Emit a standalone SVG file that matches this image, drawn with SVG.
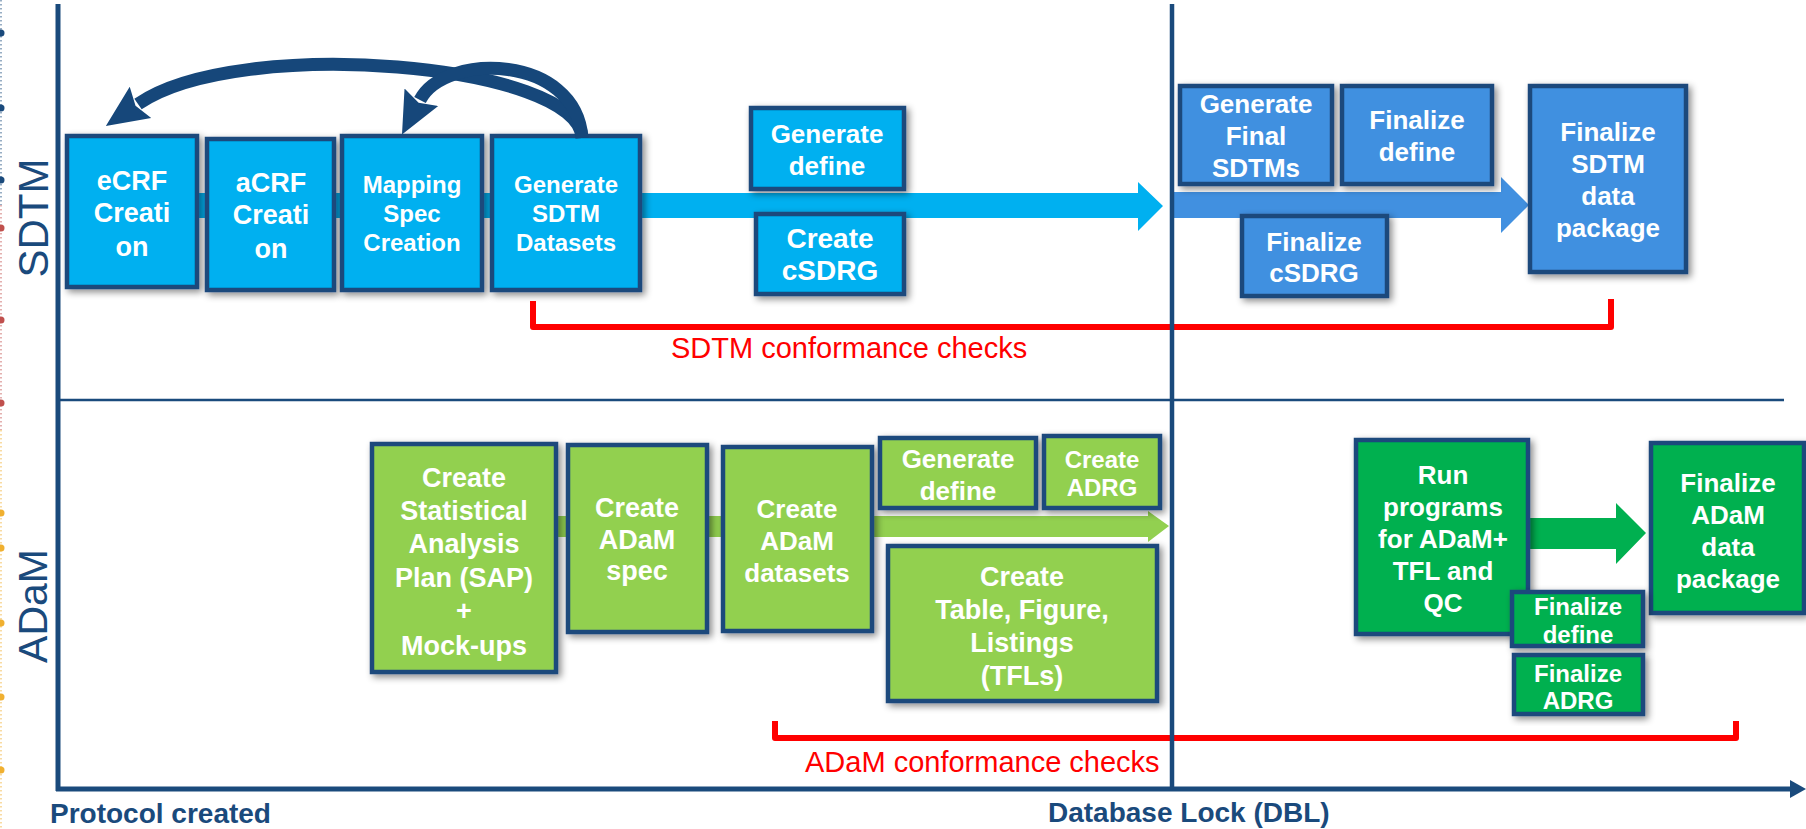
<svg xmlns="http://www.w3.org/2000/svg" width="1806" height="829" viewBox="0 0 1806 829">
<style>
.bx{stroke:#1A4A7C;stroke-width:4.5;filter:url(#sh)}
.lb{fill:#00B0F0}.mb{fill:#4190E0}.lg{fill:#92D050}.dg{fill:#00B050}
.t{font-family:"Liberation Sans",Arial,sans-serif;font-weight:bold;fill:#fff;text-anchor:middle}
.lane{font-family:"Liberation Sans",Arial,sans-serif;fill:#1A4A7C;text-anchor:middle}
.ax{font-family:"Liberation Sans",Arial,sans-serif;font-weight:bold;fill:#1A4A7C;font-size:28px}
.chk{font-family:"Liberation Sans",Arial,sans-serif;fill:#FF0000;font-size:29px}
.red{fill:none;stroke:#FF0000;stroke-width:6;stroke-linejoin:round}
.arc{fill:none;stroke:#16477A;stroke-width:13;marker-end:url(#ah)}
.axis{stroke:#1A4A7C;fill:none}
</style>
<defs>
<filter id="sh" x="-15%" y="-15%" width="135%" height="135%">
<feDropShadow dx="3" dy="3" stdDeviation="3.5" flood-color="#000" flood-opacity="0.45"/>
</filter>
<marker id="ah" markerUnits="userSpaceOnUse" viewBox="0 -21 44 42" refX="3" refY="0" markerWidth="44" markerHeight="42" orient="auto">
<path d="M0,-19 L42,0 L0,19 L6,0 Z" fill="#16477A"/>
</marker>
</defs>
<rect width="1806" height="829" fill="#fff"/>

<!-- left decorative dotted edge -->
<g id="edge">
<line x1="1" y1="0" x2="1" y2="205" stroke="#1A4A7C" stroke-width="1.5" stroke-dasharray="1.5 2.5" opacity="0.6"/>
<line x1="1" y1="205" x2="1" y2="430" stroke="#C0504D" stroke-width="1.5" stroke-dasharray="1.5 2.5" opacity="0.6"/>
<line x1="1" y1="430" x2="1" y2="829" stroke="#F0B030" stroke-width="1.5" stroke-dasharray="1.5 2.5" opacity="0.6"/>
<g fill="#1A4A7C"><circle cx="1" cy="33" r="3.5"/><circle cx="1" cy="108" r="3.5"/><circle cx="1" cy="180" r="3.5"/></g>
<g fill="#C0504D"><circle cx="1" cy="228" r="3.5"/><circle cx="1" cy="320" r="3.5"/><circle cx="1" cy="403" r="3.5"/></g>
<g fill="#F0B030"><circle cx="1" cy="513" r="3.5"/><circle cx="1" cy="548" r="3.5"/><circle cx="1" cy="623" r="3.5"/><circle cx="1" cy="697" r="3.5"/><circle cx="1" cy="770" r="3.5"/></g>
</g>

<!-- lane labels -->
<text class="lane" font-size="42" transform="translate(48,218) rotate(-90)">SDTM</text>
<text class="lane" font-size="41" transform="translate(47,606) rotate(-90)">ADaM</text>

<!-- lane separator -->
<line class="axis" x1="58" y1="400" x2="1784" y2="400" stroke-width="2.5"/>

<!-- connectors: flow bands -->
<g id="connectors">
<path d="M65,193 L1138,193 L1138,182 L1163,206 L1138,231 L1138,218 L65,218 Z" fill="#00B0F0"/>
<path d="M1173,192 L1501,192 L1501,177 L1529,205 L1501,233 L1501,218 L1173,218 Z" fill="#4190E0"/>
<path d="M400,516 L1148,516 L1148,511 L1169,526 L1148,542 L1148,537 L400,537 Z" fill="#92D050"/>
<path d="M1500,518 L1616,518 L1616,503 L1646,533 L1616,564 L1616,549 L1500,549 Z" fill="#00B050"/>
</g>

<!-- SDTM nodes -->
<g id="ecrf"><rect class="bx lb" x="67" y="136" width="130" height="151"/>
<text class="t" font-size="27"><tspan x="132" y="190">eCRF</tspan><tspan x="132" y="222">Creati</tspan><tspan x="132" y="256">on</tspan></text></g>
<g id="acrf"><rect class="bx lb" x="207" y="139" width="127" height="151"/>
<text class="t" font-size="27"><tspan x="271" y="192">aCRF</tspan><tspan x="271" y="224">Creati</tspan><tspan x="271" y="258">on</tspan></text></g>
<g id="mapping"><rect class="bx lb" x="342" y="136" width="140" height="154"/>
<text class="t" font-size="24"><tspan x="412" y="193">Mapping</tspan><tspan x="412" y="222">Spec</tspan><tspan x="412" y="251">Creation</tspan></text></g>
<g id="gensdtm"><rect class="bx lb" x="492" y="136" width="148" height="154"/>
<text class="t" font-size="24"><tspan x="566" y="193">Generate</tspan><tspan x="566" y="222">SDTM</tspan><tspan x="566" y="251">Datasets</tspan></text></g>
<g id="gendefine"><rect class="bx lb" x="751" y="108" width="153" height="81"/>
<text class="t" font-size="26"><tspan x="827" y="143">Generate</tspan><tspan x="827" y="175">define</tspan></text></g>
<g id="csdrg"><rect class="bx lb" x="756" y="214" width="148" height="80"/>
<text class="t" font-size="28"><tspan x="830" y="248">Create</tspan><tspan x="830" y="280">cSDRG</tspan></text></g>
<g id="finalsdtms"><rect class="bx mb" x="1180" y="86" width="152" height="98"/>
<text class="t" font-size="26"><tspan x="1256" y="113">Generate</tspan><tspan x="1256" y="145">Final</tspan><tspan x="1256" y="177">SDTMs</tspan></text></g>
<g id="findefine"><rect class="bx mb" x="1342" y="86" width="150" height="98"/>
<text class="t" font-size="26"><tspan x="1417" y="129">Finalize</tspan><tspan x="1417" y="161">define</tspan></text></g>
<g id="fincsdrg"><rect class="bx mb" x="1242" y="216" width="145" height="80"/>
<text class="t" font-size="26"><tspan x="1314" y="251">Finalize</tspan><tspan x="1314" y="282">cSDRG</tspan></text></g>
<g id="sdtmpkg"><rect class="bx mb" x="1530" y="86" width="156" height="186"/>
<text class="t" font-size="26"><tspan x="1608" y="141">Finalize</tspan><tspan x="1608" y="173">SDTM</tspan><tspan x="1608" y="205">data</tspan><tspan x="1608" y="237">package</tspan></text></g>

<!-- ADaM nodes -->
<g id="sap"><rect class="bx lg" x="372" y="444" width="184" height="228"/>
<text class="t" font-size="27"><tspan x="464" y="487">Create</tspan><tspan x="464" y="520">Statistical</tspan><tspan x="464" y="553">Analysis</tspan><tspan x="464" y="587">Plan (SAP)</tspan><tspan x="464" y="620">+</tspan><tspan x="464" y="655">Mock-ups</tspan></text></g>
<g id="adamspec"><rect class="bx lg" x="568" y="445" width="139" height="187"/>
<text class="t" font-size="27"><tspan x="637" y="517">Create</tspan><tspan x="637" y="549">ADaM</tspan><tspan x="637" y="580">spec</tspan></text></g>
<g id="adamds"><rect class="bx lg" x="723" y="447" width="149" height="184"/>
<text class="t" font-size="26"><tspan x="797" y="518">Create</tspan><tspan x="797" y="550">ADaM</tspan><tspan x="797" y="582">datasets</tspan></text></g>
<g id="gendefine2"><rect class="bx lg" x="880" y="438" width="156" height="70"/>
<text class="t" font-size="26"><tspan x="958" y="468">Generate</tspan><tspan x="958" y="500">define</tspan></text></g>
<g id="adrg"><rect class="bx lg" x="1044" y="436" width="116" height="72"/>
<text class="t" font-size="24"><tspan x="1102" y="468">Create</tspan><tspan x="1102" y="496">ADRG</tspan></text></g>
<g id="tfl"><rect class="bx lg" x="888" y="546" width="269" height="155"/>
<text class="t" font-size="27"><tspan x="1022" y="586">Create</tspan><tspan x="1022" y="619">Table, Figure,</tspan><tspan x="1022" y="652">Listings</tspan><tspan x="1022" y="685">(TFLs)</tspan></text></g>
<g id="runprog"><rect class="bx dg" x="1356" y="440" width="172" height="194"/>
<text class="t" font-size="26"><tspan x="1443" y="484">Run</tspan><tspan x="1443" y="516">programs</tspan><tspan x="1443" y="548">for ADaM+</tspan><tspan x="1443" y="580">TFL and</tspan><tspan x="1443" y="612">QC</tspan></text></g>
<g id="adampkg"><rect class="bx dg" x="1651" y="443" width="153" height="170"/>
<text class="t" font-size="26"><tspan x="1728" y="492">Finalize</tspan><tspan x="1728" y="524">ADaM</tspan><tspan x="1728" y="556">data</tspan><tspan x="1728" y="588">package</tspan></text></g>
<g id="findefine2"><rect class="bx dg" x="1512" y="592" width="131" height="54"/>
<text class="t" font-size="24"><tspan x="1578" y="615">Finalize</tspan><tspan x="1578" y="643">define</tspan></text></g>
<g id="finadrg"><rect class="bx dg" x="1514" y="655" width="129" height="59"/>
<text class="t" font-size="24"><tspan x="1578" y="682">Finalize</tspan><tspan x="1578" y="709">ADRG</tspan></text></g>

<!-- feedback arcs -->
<g id="feedback">
<path class="arc" d="M582,138 C580,64 240,34 138,104"/>
<path class="arc" d="M582,138 C576,54 445,52 420,100"/>
</g>

<!-- conformance brackets -->
<path class="red" d="M533,301 L533,327 L1611,327 L1611,299"/>
<text class="chk" x="671" y="358">SDTM conformance checks</text>
<path class="red" d="M775,721 L775,738 L1736,738 L1736,721"/>
<text class="chk" x="805" y="772">ADaM conformance checks</text>

<!-- axes -->
<line class="axis" x1="58" y1="4" x2="58" y2="791" stroke-width="5"/>
<line class="axis" x1="1172" y1="4" x2="1172" y2="789" stroke-width="4.5"/>
<line class="axis" x1="56" y1="789" x2="1793" y2="789" stroke-width="5"/>
<path d="M1790,780 L1806,789 L1790,798 Z" fill="#1A4A7C"/>
<text class="ax" x="50" y="823">Protocol created</text>
<text class="ax" x="1048" y="822">Database Lock (DBL)</text>
</svg>
